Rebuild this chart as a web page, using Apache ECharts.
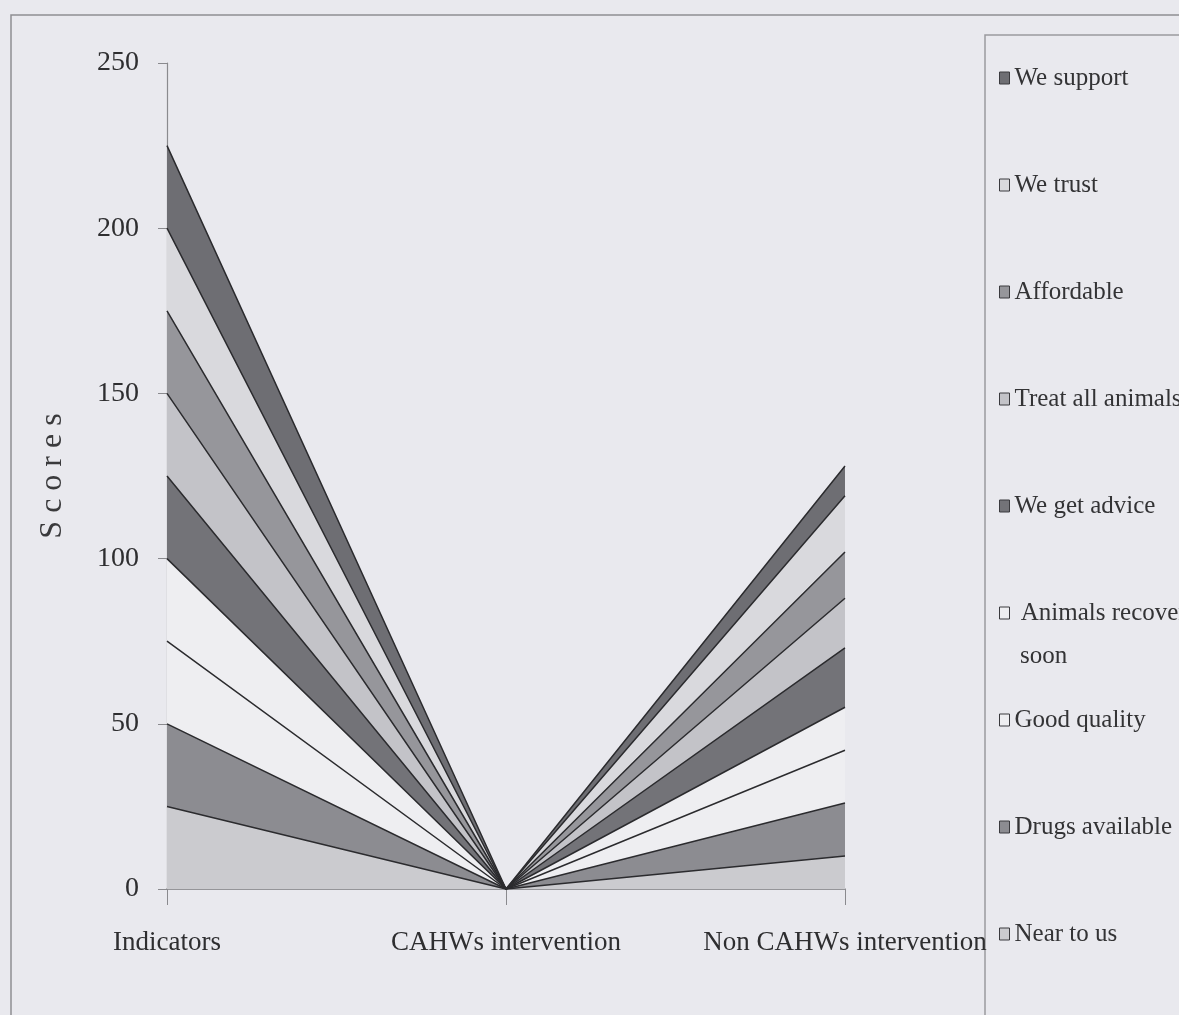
<!DOCTYPE html>
<html>
<head>
<meta charset="utf-8">
<script src="https://cdn.jsdelivr.net/npm/echarts@6/dist/echarts.min.js"></script>
<style>
html,body{margin:0;padding:0;background:#e9e9ee;}
#chart{width:1179px;height:1015px;}
</style>
</head>
<body>
<div id="chart"></div>
<script>
var categories = ['Indicators', 'CAHWs intervention', 'Non CAHWs intervention'];
var yTicks = [0, 50, 100, 150, 200, 250];
var seriesNames = ['Near to us', 'Drugs available', 'Good quality', 'Animals recover soon', 'We get advice', 'Treat all animals', 'Affordable', 'We trust', 'We support'];
var nearToUs = [25, 0, 10];
var drugsAvailable = [25, 0, 16];
var goodQuality = [25, 0, 16];
var animalsRecoverSoon = [25, 0, 13];
var weGetAdvice = [25, 0, 18];
var treatAllAnimals = [25, 0, 15];
var affordable = [25, 0, 14];
var weTrust = [25, 0, 17];
var weSupport = [25, 0, 9];

var seriesValues = [nearToUs, drugsAvailable, goodQuality, animalsRecoverSoon, weGetAdvice, treatAllAnimals, affordable, weTrust, weSupport];
var fills = ['#cbcbcf', '#8c8c91', '#eeeef1', '#eeeef1', '#737378', '#c3c3c8', '#96969b', '#d9d9dd', '#6e6e73'];

var font = '"Liberation Serif", "DejaVu Serif", serif';
var chart = echarts.init(document.getElementById('chart'));

var series = seriesNames.map(function (name, i) {
  return {
    name: name,
    type: 'line',
    stack: 'total',
    data: seriesValues[i],
    symbol: 'none',
    lineStyle: { color: '#2b2b2e', width: 1.5 },
    itemStyle: { color: fills[i], borderColor: '#3a3a3e', borderWidth: 1 },
    areaStyle: { color: fills[i], opacity: 1 },
    emphasis: { disabled: true }
  };
});

var option = {
  backgroundColor: '#e9e9ee',
  animation: false,
  grid: { left: 167, right: 334, top: 63, bottom: 126, containLabel: false },
  xAxis: {
    type: 'category',
    data: categories,
    boundaryGap: false,
    axisLine: { show: true, lineStyle: { color: '#7a7a7e', width: 1.5 } },
    axisTick: { show: true, length: 16, lineStyle: { color: '#8a8a8e' } },
    axisLabel: { interval: 0, hideOverlap: false, margin: 40, color: '#2e2e30', fontFamily: font, fontSize: 27 },
    splitLine: { show: false }
  },
  yAxis: {
    type: 'value',
    min: 0,
    max: 250,
    interval: 50,
    name: 'S c o r e s',
    nameLocation: 'middle',
    nameRotate: 90,
    nameGap: 98,
    nameTextStyle: { color: '#3a3a3c', fontFamily: font, fontSize: 32 },
    axisLine: { show: true, lineStyle: { color: '#8a8a8e', width: 1.2 } },
    axisTick: { show: true, inside: false, length: 9, lineStyle: { color: '#8a8a8e' } },
    axisLabel: {
      margin: 28, color: '#2e2e30', fontFamily: font, fontSize: 28,
      formatter: function (v) { return yTicks.indexOf(v) >= 0 ? String(v) : ''; }
    },
    splitLine: { show: false }
  },
  legend: {
    orient: 'vertical',
    left: 994,
    top: 58,
    itemWidth: 10,
    itemHeight: 12,
    itemGap: 77,
    icon: 'rect',
    data: seriesNames.slice().reverse(),
    selectedMode: false,
    textStyle: { color: '#333335', fontFamily: font, fontSize: 25, lineHeight: 30 },
    formatter: function (name) { return name === 'Animals recover soon' ? ' Animals recover' : name; },
    itemStyle: { borderColor: '#3a3a3e', borderWidth: 1 }
  },
  graphic: [
    { type: 'rect', z: -1, shape: { x: 11, y: 15, width: 1200, height: 1100 }, style: { fill: 'none', stroke: '#8e8e92', lineWidth: 1.5 } },
    { type: 'rect', z: -1, shape: { x: 985, y: 35, width: 300, height: 1100 }, style: { fill: 'none', stroke: '#9a9a9e', lineWidth: 1.5 } },
    { type: 'text', left: 1020, top: 644, style: { text: 'soon', fill: '#333335', font: '25px "Liberation Serif", serif' } }
  ],
  series: series
};
chart.setOption(option);
</script>
</body>
</html>
